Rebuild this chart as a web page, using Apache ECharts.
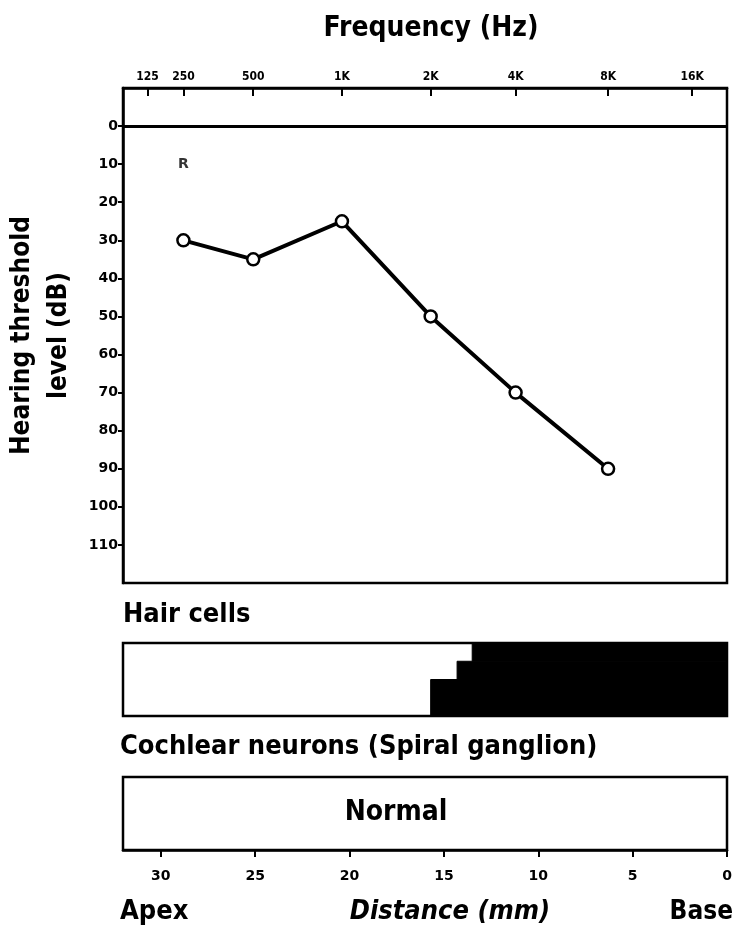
<!DOCTYPE html>
<html>
<head>
<meta charset="utf-8">
<script src="https://cdn.jsdelivr.net/npm/echarts@6/dist/echarts.min.js"></script>
<style>html,body{margin:0;padding:0;background:#fff}#c{width:738px;height:926px}</style>
</head>
<body>
<div id="c"></div>
<script>
// ---- data ----
var freqLabels = ['125', '250', '500', '1K', '2K', '4K', '8K', '16K'];
var freqPosMm = [30.7, 28.8, 25.1, 20.4, 15.7, 11.2, 6.3, 1.85];   // cochlear place of each frequency (mm from base)
var testedFreqs = ['250', '500', '1K', '2K', '4K', '8K'];
var thresholdDb = [30, 35, 25, 50, 70, 90];
var earMarkFreq = '250';
var earMarkDb = 10;
var earMarkText = 'R';
var dbTicks = [0, 10, 20, 30, 40, 50, 60, 70, 80, 90, 100, 110];
var distTicks = [0, 5, 10, 15, 20, 25, 30];
// hair cell loss: extends from base (0 mm) to lossTo, for band [bandLow, bandHigh] of the row height
var hairLossTo = [13.5, 14.3, 15.7];
var hairBandLow = [0.75, 0.5, 0];
var hairBandHigh = [1, 0.75, 0.5];
var neuronStatus = 'Normal';

var FONT = '"DejaVu Sans Condensed", "Liberation Sans Narrow", "DejaVu Sans", sans-serif';
var FONTW = '"DejaVu Sans", sans-serif';

function posOf(f) { return freqPosMm[freqLabels.indexOf(f)]; }
var lineData = testedFreqs.map(function (f, i) { return [posOf(f), thresholdDb[i]]; });
var hairData = hairLossTo.map(function (v, i) { return [v, hairBandLow[i], hairBandHigh[i]]; });

var chart = echarts.init(document.getElementById('c'));
var L = 123, W = 604;
var gridStyle = { show: true, borderColor: '#000', borderWidth: 2.5, backgroundColor: 'transparent', containLabel: false, outerBoundsMode: 'none' };

function txt(x, y, s, align, size, style) {
  return { type: 'text', x: x, y: y, style: { text: s, fill: '#000', align: align, verticalAlign: 'middle', font: (style || '') + ' bold ' + size + 'px ' + FONT } };
}

chart.setOption({
  animation: false,
  grid: [
    Object.assign({ left: L, width: W, top: 88, height: 495 }, gridStyle),
    Object.assign({ left: L, width: W, top: 643, height: 73 }, gridStyle),
    Object.assign({ left: L, width: W, top: 777, height: 73 }, gridStyle)
  ],
  xAxis: [
    {
      gridIndex: 0, type: 'value', min: 0, max: 32, inverse: true, position: 'top',
      axisLine: { show: true, onZero: false, lineStyle: { color: '#000', width: 2.5 } },
      axisTick: { show: true, inside: true, length: 8, customValues: freqPosMm, lineStyle: { color: '#000', width: 2 } },
      axisLabel: {
        customValues: freqPosMm, margin: 5, color: '#000', fontFamily: FONT, fontWeight: 'bold', fontSize: 12,
        formatter: function (v) {
          var best = 0;
          for (var i = 0; i < freqPosMm.length; i++) if (Math.abs(freqPosMm[i] - v) < Math.abs(freqPosMm[best] - v)) best = i;
          return freqLabels[best];
        }
      },
      splitLine: { show: false }
    },
    { gridIndex: 1, type: 'value', min: 0, max: 32, inverse: true, show: false },
    {
      gridIndex: 2, type: 'value', min: 0, max: 32, inverse: true, position: 'bottom',
      axisLine: { show: true, onZero: false, lineStyle: { color: '#000', width: 2.5 } },
      axisTick: { show: true, length: 7, customValues: distTicks, lineStyle: { color: '#000', width: 2 } },
      axisLabel: { customValues: distTicks, margin: 19, color: '#000', fontFamily: FONTW, fontWeight: 'bold', fontSize: 14 },
      splitLine: { show: false }
    }
  ],
  yAxis: [
    {
      gridIndex: 0, type: 'value', min: -10, max: 120, inverse: true,
      axisLine: { show: true, onZero: false, lineStyle: { color: '#000', width: 2.5 } },
      axisTick: { show: true, length: 5, customValues: dbTicks, lineStyle: { color: '#000', width: 2 } },
      axisLabel: { customValues: dbTicks, margin: 5, color: '#000', fontFamily: FONTW, fontWeight: 'bold', fontSize: 14 },
      splitLine: { show: false },
      name: 'Hearing threshold\nlevel (dB)', nameLocation: 'middle', nameRotate: 90, nameGap: 45,
      nameTextStyle: { color: '#000', fontFamily: FONT, fontWeight: 'bold', fontSize: 26, lineHeight: 37 }
    },
    { gridIndex: 1, type: 'value', min: 0, max: 1, show: false },
    { gridIndex: 2, type: 'value', min: 0, max: 1, show: false }
  ],
  series: [
    {
      type: 'line', xAxisIndex: 0, yAxisIndex: 0, data: lineData,
      symbol: 'circle', symbolSize: 12,
      itemStyle: { color: '#fff', borderColor: '#000', borderWidth: 2.5 },
      lineStyle: { color: '#000', width: 4 },
      markLine: {
        silent: true, symbol: 'none', label: { show: false },
        lineStyle: { color: '#000', width: 3, type: 'solid' },
        data: [{ yAxis: 0 }]
      },
      z: 3
    },
    {
      type: 'scatter', xAxisIndex: 0, yAxisIndex: 0,
      data: [[posOf(earMarkFreq), earMarkDb]], symbolSize: 1, itemStyle: { color: 'transparent' },
      label: { show: true, position: 'inside', formatter: earMarkText, color: '#000', fontFamily: FONTW, fontWeight: 'bold', fontSize: 14 }
    },
    {
      type: 'custom', xAxisIndex: 1, yAxisIndex: 1, data: hairData,
      renderItem: function (params, api) {
        var a = api.coord([0, api.value(2)]);
        var b = api.coord([api.value(0), api.value(1)]);
        return {
          type: 'rect',
          shape: { x: Math.min(a[0], b[0]), y: Math.min(a[1], b[1]), width: Math.abs(b[0] - a[0]), height: Math.abs(b[1] - a[1]) },
          style: { fill: '#000', stroke: '#000', lineWidth: 1 }
        };
      }
    }
  ],
  graphic: [
    txt(431, 29, 'Frequency (Hz)', 'center', 28),
    txt(123, 615, 'Hair cells', 'left', 27),
    txt(120, 747, 'Cochlear neurons (Spiral ganglion)', 'left', 27),
    txt(396, 813, neuronStatus, 'center', 28),
    txt(120, 912, 'Apex', 'left', 27),
    txt(450, 912, 'Distance (mm)', 'center', 27, 'italic'),
    txt(733, 912, 'Base', 'right', 26)
  ]
});
</script>
</body>
</html>
